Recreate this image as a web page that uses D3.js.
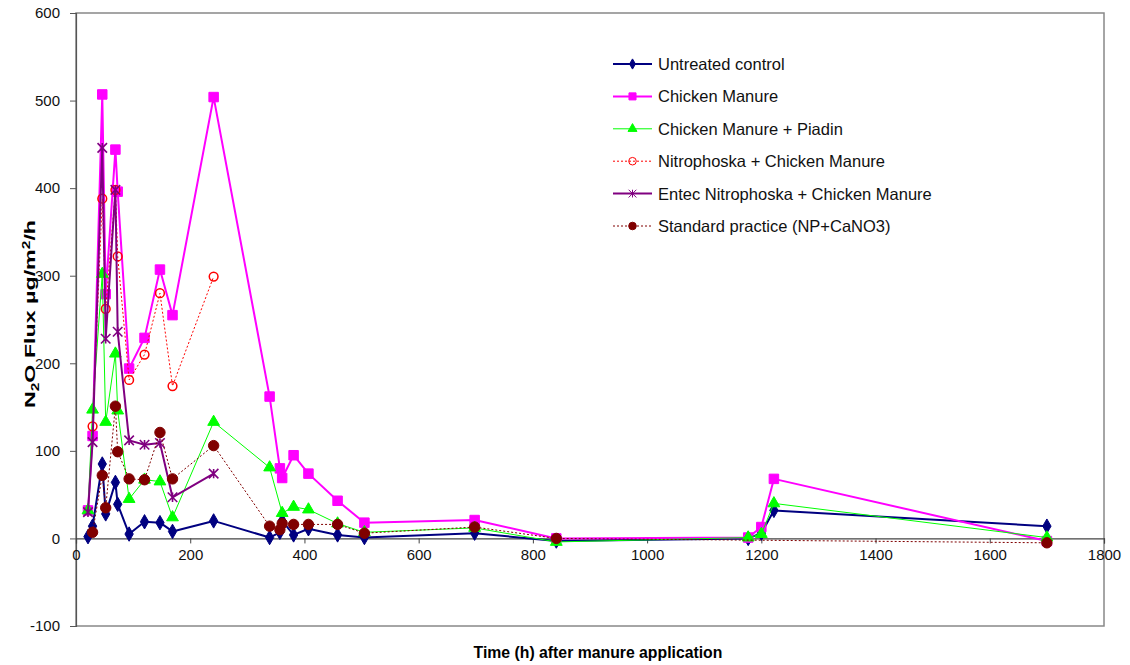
<!DOCTYPE html>
<html><head><meta charset="utf-8">
<script src="https://cdn.jsdelivr.net/npm/d3@7"></script>
<style>body{margin:0;background:#fff}svg{display:block}text{font-family:"Liberation Sans",Arial,sans-serif}</style>
</head><body>
<svg id="c" width="1130" height="665"></svg>
<script>
const times = [21, 29, 46, 52, 69, 73, 93, 120, 147, 169, 241, 339, 357, 361, 381, 407, 458, 505, 698, 841, 1177, 1200, 1222, 1700];
const untreated   = [2, 14, 85, 28, 64, 39, 5, 19, 18, 8, 20, 1, 7, 20, 4, 11, 4, 1, 6, -3, 0, 6, 32, 14];
const chicken     = [32, 117, 507, 279, 444, 396, 194, 229, 307, 255, 504, 162, 80, 69, 95, 74, 43, 18, 21, 0, 1, 13, 68, -3];
const piadin      = [32, 147, 302, 133, 211, 146, 45, 67, 65, 24, 133, 81, null, 29, 36, 33, 17, 7, 12, -4, 1, 5, 40, 1];
const nitrophoska = [null, 128, 388, 262, 398, 322, 181, 210, 280, 174, 299, null, null, null, null, null, null, null, null, null, null, null, null, null];
const entec       = [30, 110, 446, 228, 398, 236, 112, 107, 109, 47, 74, null, null, null, null, null, null, null, null, null, null, null, null, null];
const standard    = [null, 7, 72, 35, 151, 99, 68, 67, 121, 68, 106, 14, 10, 17, 16, 16, 16, 6, 13, 0, null, null, null, -5];
const seriesNames = ["Untreated control", "Chicken Manure", "Chicken Manure + Piadin", "Nitrophoska + Chicken Manure", "Entec Nitrophoska + Chicken Manure", "Standard practice (NP+CaNO3)"];
const xTicks = [0, 200, 400, 600, 800, 1000, 1200, 1400, 1600, 1800];
const yTicks = [-100, 0, 100, 200, 300, 400, 500, 600];

const svg = d3.select("#c");
const x = d3.scaleLinear().domain([0, 1800]).range([76, 1104]);
const y = d3.scaleLinear().domain([-100, 600]).range([626, 13]);
const fmt = d => String(d);

// frame
svg.append("rect").attr("x", x(0)).attr("y", y(600)).attr("width", x(1800) - x(0)).attr("height", y(-100) - y(600))
  .attr("fill", "none").attr("stroke", "#888").attr("stroke-width", 1.5);

// y axis
const ya = svg.append("g").attr("transform", `translate(${x(0)},0)`)
  .call(d3.axisLeft(y).tickValues(yTicks).tickSize(6).tickPadding(10).tickFormat(fmt));
ya.select(".domain").attr("stroke", "#555").attr("stroke-width", 1.2);
ya.selectAll(".tick line").attr("stroke", "#555");
ya.selectAll("text").attr("font-size", 15).attr("fill", "#111").style("font-family", '"Liberation Sans",Arial,sans-serif');

// x axis at y=0
const xa = svg.append("g").attr("transform", `translate(0,${y(0)})`)
  .call(d3.axisBottom(x).tickValues(xTicks).tickSize(5).tickPadding(6).tickFormat(fmt));
xa.select(".domain").attr("stroke", "#444").attr("stroke-width", 1.2);
xa.selectAll(".tick line").attr("stroke", "#444");
xa.selectAll("text").attr("font-size", 15).attr("fill", "#111").style("font-family", '"Liberation Sans",Arial,sans-serif');

// axis titles
svg.append("text").attr("transform", "translate(598,658) scale(1,1.1)").attr("text-anchor", "middle")
  .attr("font-size", 15.8).attr("font-weight", "bold").text("Time (h) after manure application");
const yt = svg.append("text").attr("transform", `translate(35,314) rotate(-90) scale(1.55,1)`)
  .attr("text-anchor", "middle").attr("font-size", 15).attr("font-weight", "bold");
yt.append("tspan").text("N");
yt.append("tspan").attr("font-size", 10).attr("dy", 4).text("2");
yt.append("tspan").attr("dy", -4).text("O Flux µg/m");
yt.append("tspan").attr("font-size", 10).attr("dy", -5).text("2");
yt.append("tspan").attr("dy", 5).text("/h");

// series styles
const asterisk = {
  draw(ctx, size) {
    const r = Math.sqrt(size) / 2;
    ctx.moveTo(-r, -r); ctx.lineTo(r, r);
    ctx.moveTo(-r, r); ctx.lineTo(r, -r);
    ctx.moveTo(0, -r); ctx.lineTo(0, r);
  }
};
const styles = [
  {vals: untreated, color: "#000080", width: 2, dash: null, sym: d3.symbolDiamond, size: 60, fill: "#000080", stroke: "#000080", legSize: 30},
  {vals: chicken, color: "#FF00FF", width: 2, dash: null, sym: d3.symbolSquare, size: 90, fill: "#FF00FF", stroke: "#FF00FF", legSize: 50},
  {vals: piadin, color: "#00FF00", width: 1, dash: null, sym: d3.symbolTriangle, size: 60, fill: "#00FF00", stroke: "#00FF00", legSize: 35},
  {vals: nitrophoska, color: "#FF0000", width: 1, dash: "2,2", sym: d3.symbolCircle, size: 60, fill: "none", stroke: "#FF0000", legSize: 45},
  {vals: entec, color: "#800080", width: 2, dash: null, sym: asterisk, size: 90, fill: "none", stroke: "#800080", legSize: 60},
  {vals: standard, color: "#800000", width: 1, dash: "2,2", sym: d3.symbolCircle, size: 85, fill: "#800000", stroke: "#800000", legSize: 45}
];
const line = d3.line().x(d => x(d[0])).y(d => y(d[1]));

styles.forEach((s, i) => {
  const pts = times.map((t, j) => [t, s.vals[j]]).filter(d => d[1] !== null);
  const g = svg.append("g");
  g.append("path").datum(pts).attr("d", line).attr("fill", "none")
    .attr("stroke", s.color).attr("stroke-width", s.width).attr("stroke-dasharray", s.dash)
    .attr("stroke-linejoin", "round");
  g.selectAll("path.m").data(pts).join("path").attr("class", "m")
    .attr("transform", d => `translate(${x(d[0])},${y(d[1])})`)
    .attr("d", d3.symbol().type(s.sym).size(s.size))
    .attr("fill", s.fill).attr("stroke", s.stroke).attr("stroke-width", s.sym === asterisk ? 1.6 : (s.fill === "none" ? 1.5 : 1));
});

// legend
const lg = svg.append("g");
seriesNames.forEach((name, i) => {
  const s = styles[i];
  const yy = 64 + i * 32.4;
  lg.append("line").attr("x1", 613).attr("x2", 652).attr("y1", yy).attr("y2", yy)
    .attr("stroke", s.color).attr("stroke-width", s.width).attr("stroke-dasharray", s.dash);
  lg.append("path").attr("transform", `translate(632.5,${yy})`)
    .attr("d", d3.symbol().type(s.sym).size(s.legSize))
    .attr("fill", s.fill).attr("stroke", s.stroke).attr("stroke-width", 1);
  lg.append("text").attr("x", 658).attr("y", yy + 6).attr("font-size", 16.5).attr("fill", "#111").text(name);
});
</script>
</body></html>
